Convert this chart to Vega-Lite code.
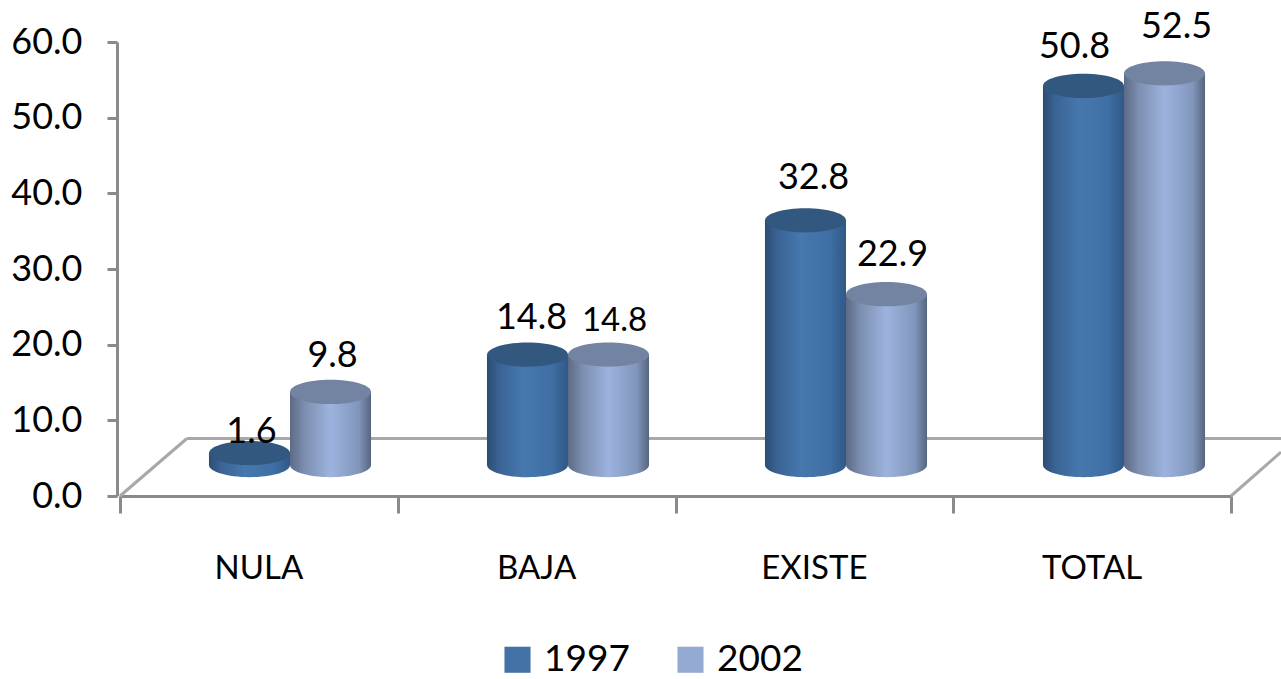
{
"$schema":"https://vega.github.io/schema/vega-lite/v6.json",
"width":1111,"height":454,"autosize":"none",
"padding":{"left":120,"top":42,"right":50,"bottom":183},
"background":"white",
"config":{"view":{"stroke":null},"font":"Lato"},
"datasets":{
"bars":[
{"cat":"NULA","year":"1997","value":1.6},{"cat":"NULA","year":"2002","value":9.8},
{"cat":"BAJA","year":"1997","value":14.8},{"cat":"BAJA","year":"2002","value":14.8},
{"cat":"EXISTE","year":"1997","value":32.8},{"cat":"EXISTE","year":"2002","value":22.9},
{"cat":"TOTAL","year":"1997","value":50.8},{"cat":"TOTAL","year":"2002","value":52.5}],
"floor":[
{"seg":"back","ord":1,"u":0.241,"v":7.6},{"seg":"back","ord":2,"u":4.18,"v":7.6},
{"seg":"left","ord":1,"u":0,"v":0},{"seg":"left","ord":2,"u":0.241,"v":7.6},
{"seg":"right","ord":1,"u":4,"v":0},{"seg":"right","ord":2,"u":4.18,"v":5.8}],
"cats":[{"cat":"NULA"},{"cat":"BAJA"},{"cat":"EXISTE"},{"cat":"TOTAL"}]
},
"resolve":{"scale":{"x":"independent","y":"independent"}},
"layer":[
{"data":{"name":"floor"},
 "mark":{"type":"line","clip":false,"strokeWidth":3,"color":"#a8a8a8"},
 "encoding":{
  "x":{"field":"u","type":"quantitative","scale":{"domain":[0,4],"nice":false,"zero":false},
   "axis":{"title":null,"values":[0,1,2,3,4],"labels":false,"grid":false,"ticks":true,"tickSize":17,"tickWidth":3,"tickColor":"#8a8a8a","domain":true,"domainColor":"#8a8a8a","domainWidth":3}},
  "y":{"field":"v","type":"quantitative","scale":{"domain":[0,60],"nice":false},
   "axis":{"title":null,"values":[0,10,20,30,40,50,60],"format":".1f","grid":false,"offset":3,"tickSize":10,"tickWidth":3,"tickColor":"#8a8a8a","domainColor":"#8a8a8a","domainWidth":3,"labelFontSize":36,"labelColor":"#000000","labelPadding":25,"labelFont":"Lato"}},
  "detail":{"field":"seg"},
  "order":{"field":"ord"}
 }},
{"data":{"name":"cats"},
 "mark":{"type":"text","fontSize":33,"color":"#000000","dy":73},
 "encoding":{
  "x":{"field":"cat","type":"nominal","sort":null,"axis":null,"scale":{"paddingInner":0,"paddingOuter":0}},
  "y":{"datum":0,"type":"quantitative","axis":null,"scale":{"domain":[0,60],"nice":false}},
  "text":{"field":"cat"}
 }},
{"data":{"name":"bars"},
 "encoding":{
  "x":{"field":"cat","type":"nominal","sort":["NULA","BAJA","EXISTE","TOTAL"],"axis":null,"scale":{"range":[31,1143],"paddingInner":0.417,"paddingOuter":0.2085}},
  "xOffset":{"field":"year","type":"nominal","scale":{"paddingInner":0,"paddingOuter":0}},
  "y":{"field":"value","type":"quantitative","axis":null,"scale":{"domain":[-4.15,56.7],"nice":false,"zero":false}}
 },
 "layer":[
 {"transform":[{"filter":"datum.year=='1997'"}],"mark":{"type":"point","filled":true,"opacity":1,"size":6561,"shape":"M-1,0 A1,0.3 0 1,0 1,0 A1,0.3 0 1,0 -1,0 Z","color":{"gradient":"linear","x1":0,"y1":0,"x2":1,"y2":0,"stops":[{"offset":0,"color":"#2c4c74"},{"offset":0.15,"color":"#3a6394"},{"offset":0.45,"color":"#4678ae"},{"offset":0.8,"color":"#3f6fa4"},{"offset":1,"color":"#2f5987"}]}},"encoding":{"y":{"datum":0}}},
 {"transform":[{"filter":"datum.year=='2002'"}],"mark":{"type":"point","filled":true,"opacity":1,"size":6561,"shape":"M-1,0 A1,0.3 0 1,0 1,0 A1,0.3 0 1,0 -1,0 Z","color":{"gradient":"linear","x1":0,"y1":0,"x2":1,"y2":0,"stops":[{"offset":0,"color":"#5c6a85"},{"offset":0.18,"color":"#7c8fb0"},{"offset":0.5,"color":"#9db3de"},{"offset":0.85,"color":"#8196ba"},{"offset":1,"color":"#56657f"}]}},"encoding":{"y":{"datum":0}}},
 {"transform":[{"filter":"datum.year=='1997'"}],"mark":{"type":"bar","color":{"gradient":"linear","x1":0,"y1":0,"x2":1,"y2":0,"stops":[{"offset":0,"color":"#2c4c74"},{"offset":0.15,"color":"#3a6394"},{"offset":0.45,"color":"#4678ae"},{"offset":0.8,"color":"#3f6fa4"},{"offset":1,"color":"#2f5987"}]}},"encoding":{"y2":{"datum":0}}},
 {"transform":[{"filter":"datum.year=='2002'"}],"mark":{"type":"bar","color":{"gradient":"linear","x1":0,"y1":0,"x2":1,"y2":0,"stops":[{"offset":0,"color":"#5c6a85"},{"offset":0.18,"color":"#7c8fb0"},{"offset":0.5,"color":"#9db3de"},{"offset":0.85,"color":"#8196ba"},{"offset":1,"color":"#56657f"}]}},"encoding":{"y2":{"datum":0}}},
 {"transform":[{"filter":"datum.year=='1997'"}],"mark":{"type":"point","filled":true,"opacity":1,"size":6561,"shape":"M-1,0 A1,0.3 0 1,0 1,0 A1,0.3 0 1,0 -1,0 Z","color":"#33587f"}},
 {"transform":[{"filter":"datum.year=='2002'"}],"mark":{"type":"point","filled":true,"opacity":1,"size":6561,"shape":"M-1,0 A1,0.3 0 1,0 1,0 A1,0.3 0 1,0 -1,0 Z","color":"#7384a2"}},
 {"mark":{"type":"square","size":0},"encoding":{"color":{"field":"year","type":"nominal","scale":{"domain":["1997","2002"],"range":["#4472a6","#95aad2"]},"legend":{"title":null,"orient":"none","legendX":379,"legendY":599,"direction":"horizontal","columns":2,"symbolType":"square","symbolSize":680,"symbolStrokeWidth":0,"labelFontSize":37,"labelColor":"#000000","labelFont":"Lato","columnPadding":42,"labelOffset":8,"symbolOpacity":1}}}},
 {"transform":[{"filter":"datum.cat=='NULA'&&datum.year=='1997'"}],"mark":{"type":"text","fontSize":36,"dx":2,"dy":-21,"color":"#000000"},"encoding":{"text":{"field":"value","format":".1f"}}},
 {"transform":[{"filter":"datum.cat=='NULA'&&datum.year=='2002'"}],"mark":{"type":"text","fontSize":36,"dx":2,"dy":-36,"color":"#000000"},"encoding":{"text":{"field":"value","format":".1f"}}},
 {"transform":[{"filter":"datum.cat=='BAJA'&&datum.year=='1997'"}],"mark":{"type":"text","fontSize":36,"dx":4,"dy":-37,"color":"#000000"},"encoding":{"text":{"field":"value","format":".1f"}}},
 {"transform":[{"filter":"datum.cat=='BAJA'&&datum.year=='2002'"}],"mark":{"type":"text","fontSize":33,"dx":6,"dy":-34,"color":"#000000"},"encoding":{"text":{"field":"value","format":".1f"}}},
 {"transform":[{"filter":"datum.cat=='EXISTE'&&datum.year=='1997'"}],"mark":{"type":"text","fontSize":36,"dx":8,"dy":-42,"color":"#000000"},"encoding":{"text":{"field":"value","format":".1f"}}},
 {"transform":[{"filter":"datum.cat=='EXISTE'&&datum.year=='2002'"}],"mark":{"type":"text","fontSize":36,"dx":6,"dy":-39,"color":"#000000"},"encoding":{"text":{"field":"value","format":".1f"}}},
 {"transform":[{"filter":"datum.cat=='TOTAL'&&datum.year=='1997'"}],"mark":{"type":"text","fontSize":36,"dx":-9,"dy":-39,"color":"#000000"},"encoding":{"text":{"field":"value","format":".1f"}}},
 {"transform":[{"filter":"datum.cat=='TOTAL'&&datum.year=='2002'"}],"mark":{"type":"text","fontSize":36,"dx":12,"dy":-46,"color":"#000000"},"encoding":{"text":{"field":"value","format":".1f"}}}
 ]}
]
}
